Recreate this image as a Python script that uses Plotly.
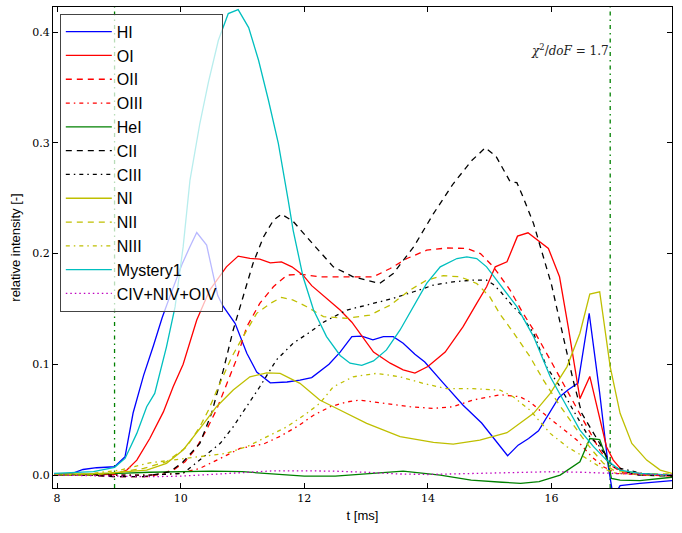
import plotly.graph_objects as go

# ---- data ----
t_HI = [7.95, 8.25, 8.42, 8.64, 8.93, 9.1, 9.23, 9.4, 9.56, 9.7, 9.83, 10.02, 10.14, 10.26, 10.42, 10.6, 10.68, 10.88, 11.07, 11.23, 11.45, 11.72, 11.93, 12.12, 12.4, 12.58, 12.77, 12.93, 13.11, 13.28, 13.44, 13.6, 13.79, 13.95, 14.25, 14.57, 14.87, 15.1, 15.29, 15.46, 15.63, 15.79, 15.97, 16.12, 16.27, 16.43, 16.61, 16.78, 16.92, 17.0, 17.11, 17.43, 17.95]
y_HI = [0.001, 0.0015, 0.005, 0.0066, 0.0075, 0.0166, 0.056, 0.09, 0.117, 0.142, 0.162, 0.19, 0.205, 0.219, 0.2076, 0.162, 0.153, 0.137, 0.110, 0.093, 0.0833, 0.084, 0.0857, 0.088, 0.100, 0.111, 0.125, 0.1255, 0.122, 0.125, 0.125, 0.119, 0.109, 0.102, 0.083, 0.063, 0.047, 0.031, 0.0174, 0.027, 0.033, 0.040, 0.0557, 0.070, 0.077, 0.083, 0.146, 0.074, 0.0075, -0.02, -0.0096, -0.0075, -0.005]

t_OI = [7.95, 8.5, 8.94, 9.13, 9.29, 9.5, 9.72, 9.88, 10.04, 10.26, 10.47, 10.74, 10.93, 11.12, 11.28, 11.45, 11.63, 11.8, 11.98, 12.12, 12.25, 12.58, 12.77, 12.93, 13.12, 13.39, 13.6, 13.79, 14.0, 14.28, 14.57, 14.79, 14.95, 15.09, 15.28, 15.45, 15.62, 15.95, 16.13, 16.27, 16.46, 16.62, 16.76, 16.89, 17.0, 17.16, 17.5, 17.95]
y_OI = [0.0, 0.0, 0.0006, 0.0045, 0.0135, 0.033, 0.057, 0.080, 0.100, 0.14, 0.167, 0.188, 0.1977, 0.1956, 0.195, 0.1916, 0.1925, 0.188, 0.1805, 0.171, 0.165, 0.149, 0.138, 0.126, 0.111, 0.101, 0.095, 0.092, 0.098, 0.111, 0.134, 0.155, 0.170, 0.188, 0.1925, 0.2157, 0.2187, 0.2046, 0.179, 0.134, 0.069, 0.089, 0.0557, 0.0256, 0.0135, 0.003, 0.001, 0.0]

t_OII = [7.95, 8.5, 9.0, 9.5, 9.88, 10.07, 10.26, 10.42, 10.58, 10.69, 10.9, 11.07, 11.28, 11.5, 11.72, 11.93, 12.25, 12.69, 13.12, 13.39, 13.66, 13.98, 14.3, 14.63, 14.85, 15.06, 15.33, 15.54, 15.71, 15.98, 16.22, 16.46, 16.62, 16.78, 16.95, 17.16, 17.5, 17.95]
y_OII = [0.0, 0.0, -0.0015, -0.0015, 0.0045, 0.012, 0.025, 0.041, 0.059, 0.074, 0.104, 0.134, 0.155, 0.17, 0.1805, 0.1814, 0.179, 0.179, 0.179, 0.1865, 0.1955, 0.203, 0.205, 0.2046, 0.2, 0.188, 0.167, 0.146, 0.131, 0.104, 0.080, 0.0557, 0.039, 0.0226, 0.009, 0.002, 0.0, -0.001]

t_OIII = [7.95, 8.5, 9.0, 9.5, 9.99, 10.31, 10.64, 10.96, 11.34, 11.61, 11.88, 12.15, 12.42, 12.69, 12.9, 13.33, 13.71, 14.09, 14.41, 14.73, 15.17, 15.49, 15.65, 15.87, 16.14, 16.41, 16.65, 16.84, 17.05, 17.5, 17.95]
y_OIII = [0.0, 0.0, 0.0, 0.0, 0.0015, 0.006, 0.015, 0.024, 0.028, 0.035, 0.0436, 0.054, 0.0617, 0.066, 0.0677, 0.0647, 0.0617, 0.0602, 0.0617, 0.0677, 0.0725, 0.0707, 0.066, 0.0557, 0.0436, 0.0316, 0.0166, 0.0075, 0.0015, 0.0, 0.0]

t_HeI = [7.95, 8.5, 9.0, 9.5, 10.0, 10.5, 11.0, 11.5, 12.0, 12.5, 13.0, 13.6, 14.2, 14.7, 15.2, 15.5, 15.8, 16.14, 16.46, 16.62, 16.78, 16.92, 16.97, 17.11, 17.43, 17.95]
y_HeI = [0.0, 0.0005, 0.0015, 0.0025, 0.0033, 0.0035, 0.003, 0.001, -0.001, -0.001, 0.001, 0.0035, 0.0, -0.0045, -0.0065, -0.0075, -0.006, 0.0, 0.012, 0.033, 0.032, 0.0106, -0.003, -0.0045, -0.005, -0.002]

t_CII = [7.95, 8.5, 8.9, 9.4, 9.83, 10.04, 10.31, 10.5, 10.69, 10.85, 11.01, 11.17, 11.34, 11.5, 11.63, 11.82, 12.15, 12.47, 12.79, 13.22, 13.44, 13.77, 14.09, 14.41, 14.71, 14.93, 15.1, 15.33, 15.44, 15.54, 15.71, 15.87, 16.0, 16.19, 16.35, 16.49, 16.62, 16.78, 16.95, 17.11, 17.4, 17.95]
y_CII = [0.0, 0.0, -0.0015, -0.0015, 0.003, 0.012, 0.0286, 0.0557, 0.0947, 0.131, 0.161, 0.191, 0.215, 0.23, 0.2356, 0.229, 0.208, 0.188, 0.179, 0.173, 0.182, 0.206, 0.236, 0.263, 0.284, 0.2955, 0.288, 0.265, 0.264, 0.251, 0.227, 0.197, 0.172, 0.125, 0.0857, 0.0557, 0.0436, 0.0286, 0.0106, 0.0045, 0.0, -0.001]

t_CIII = [7.95, 8.5, 9.0, 9.5, 10.04, 10.37, 10.64, 10.85, 11.07, 11.28, 11.55, 11.82, 12.09, 12.31, 12.69, 13.12, 13.44, 13.77, 14.09, 14.41, 14.73, 14.95, 15.06, 15.17, 15.38, 15.49, 15.71, 15.92, 16.14, 16.35, 16.57, 16.78, 17.0, 17.5, 17.95]
y_CIII = [0.0, 0.0, 0.0, 0.0, 0.0015, 0.0166, 0.0286, 0.0436, 0.0617, 0.0797, 0.104, 0.119, 0.129, 0.138, 0.149, 0.155, 0.1595, 0.1655, 0.1715, 0.1745, 0.176, 0.176, 0.172, 0.166, 0.152, 0.146, 0.128, 0.0977, 0.0797, 0.0587, 0.0376, 0.0256, 0.0075, 0.001, 0.0]

t_NI = [7.95, 8.5, 8.86, 9.45, 9.77, 10.04, 10.31, 10.58, 10.85, 11.12, 11.39, 11.61, 11.93, 12.25, 12.47, 13.01, 13.55, 14.09, 14.41, 14.84, 15.28, 15.71, 15.98, 16.25, 16.46, 16.62, 16.78, 16.95, 17.11, 17.3, 17.54, 17.76, 17.95]
y_NI = [0.001, 0.001, 0.002, 0.0045, 0.0106, 0.0226, 0.042, 0.0617, 0.0767, 0.0887, 0.0923, 0.0918, 0.0828, 0.0677, 0.0617, 0.0467, 0.0346, 0.0295, 0.028, 0.0316, 0.0382, 0.0557, 0.0737, 0.0977, 0.128, 0.1634, 0.1655, 0.0977, 0.0557, 0.0286, 0.0135, 0.0045, 0.0015]

t_NII = [7.95, 8.5, 8.95, 9.4, 9.77, 10.1, 10.31, 10.45, 10.61, 10.83, 11.01, 11.23, 11.45, 11.63, 11.82, 12.04, 12.31, 12.69, 13.06, 13.39, 13.71, 13.98, 14.25, 14.52, 14.79, 15.0, 15.17, 15.38, 15.65, 15.87, 16.11, 16.3, 16.49, 16.68, 16.84, 17.0, 17.5, 17.95]
y_NII = [0.0, 0.0, 0.002, 0.006, 0.012, 0.0256, 0.0436, 0.0587, 0.0797, 0.107, 0.125, 0.146, 0.155, 0.1604, 0.158, 0.152, 0.143, 0.1415, 0.1444, 0.1534, 0.167, 0.176, 0.18, 0.179, 0.173, 0.161, 0.145, 0.129, 0.107, 0.0857, 0.0647, 0.0496, 0.0346, 0.021, 0.0106, 0.0045, 0.001, 0.001]

t_NIII = [7.95, 8.5, 9.02, 9.5, 9.93, 10.31, 10.74, 11.07, 11.39, 11.72, 12.04, 12.25, 12.47, 12.79, 13.17, 13.55, 13.93, 14.3, 14.73, 15.17, 15.38, 15.65, 15.98, 16.25, 16.52, 16.78, 17.0, 17.5, 17.95]
y_NIII = [0.0, 0.001, 0.0045, 0.011, 0.014, 0.0166, 0.0196, 0.0256, 0.0346, 0.0436, 0.0557, 0.0647, 0.0797, 0.0887, 0.0918, 0.0887, 0.0827, 0.078, 0.078, 0.0767, 0.0707, 0.0587, 0.0376, 0.0256, 0.0166, 0.0075, 0.002, 0.0, 0.0]

t_Myst = [7.95, 8.59, 8.93, 9.1, 9.29, 9.45, 9.58, 9.77, 9.91, 10.04, 10.15, 10.31, 10.45, 10.61, 10.77, 10.93, 11.1, 11.26, 11.42, 11.58, 11.74, 11.82, 11.98, 12.15, 12.36, 12.58, 12.74, 12.93, 13.12, 13.33, 13.55, 13.77, 13.98, 14.2, 14.47, 14.63, 14.79, 14.95, 15.17, 15.44, 15.71, 15.98, 16.25, 16.46, 16.68, 16.89, 17.11, 17.43, 17.95]
y_Myst = [0.0015, 0.003, 0.007, 0.015, 0.0376, 0.0617, 0.0737, 0.1158, 0.152, 0.206, 0.266, 0.3174, 0.355, 0.3926, 0.4167, 0.4203, 0.404, 0.3745, 0.3384, 0.2994, 0.248, 0.221, 0.179, 0.149, 0.125, 0.108, 0.101, 0.099, 0.103, 0.113, 0.131, 0.152, 0.173, 0.188, 0.1955, 0.197, 0.1955, 0.188, 0.172, 0.152, 0.125, 0.0887, 0.0617, 0.0406, 0.0256, 0.0135, 0.0045, 0.0015, 0.0]

t_IV = [7.95, 8.5, 9.0, 9.5, 10.0, 10.5, 11.0, 11.5, 12.0, 12.5, 13.0, 13.5, 14.0, 14.5, 15.0, 15.5, 16.0, 16.5, 17.0, 17.5, 17.95]
y_IV = [0.0, -0.0005, -0.001, -0.0015, -0.001, 0.0005, 0.0025, 0.0038, 0.0038, 0.0035, 0.0025, 0.001, 0.0005, 0.0012, 0.0022, 0.0028, 0.003, 0.0025, 0.0012, 0.0005, 0.0]

marker_times = [8.93, 16.95]
chi_text = "<i>χ</i><sup>2</sup>/<i>doF</i> = 1.7"

series = [
    ("HI", t_HI, y_HI, "#0000FF", "solid"),
    ("OI", t_OI, y_OI, "#FF0000", "solid"),
    ("OII", t_OII, y_OII, "#FF0000", "6px,5px"),
    ("OIII", t_OIII, y_OIII, "#FF0000", "4px,4px,1.5px,4px"),
    ("HeI", t_HeI, y_HeI, "#008000", "solid"),
    ("CII", t_CII, y_CII, "#000000", "6px,5px"),
    ("CIII", t_CIII, y_CIII, "#000000", "4px,4px,1.5px,4px"),
    ("NI", t_NI, y_NI, "#BFBF00", "solid"),
    ("NII", t_NII, y_NII, "#BFBF00", "6px,5px"),
    ("NIII", t_NIII, y_NIII, "#BFBF00", "4px,4px,1.5px,4px"),
    ("Mystery1", t_Myst, y_Myst, "#00BFBF", "solid"),
    ("CIV+NIV+OIV", t_IV, y_IV, "#BF00BF", "1.5px,3px"),
]

fig = go.Figure()

YMIN, YMAX = -0.0117, 0.4226
for tm in marker_times:
    fig.add_trace(go.Scatter(x=[tm, tm], y=[YMIN, YMAX], mode="lines",
                             line=dict(color="#008000", width=1.3, dash="4px,4px,1.5px,4px"),
                             showlegend=False, hoverinfo="skip"))

for name, tx, ty, col, dash in series:
    fig.add_trace(go.Scatter(x=tx, y=ty, mode="lines", name=name,
                             line=dict(color=col, width=1.3, dash=dash)))

fig.add_annotation(x=0.901, y=0.911, xref="paper", yref="paper",
                   xanchor="right", yanchor="middle", text=chi_text, showarrow=False,
                   font=dict(family="DejaVu Serif", size=12, color="#222222"))

axis_common = dict(showline=True, linecolor="black", linewidth=1, mirror="allticks",
                   ticks="inside", ticklen=5, tickcolor="black", showgrid=False, zeroline=False,
                   tickfont=dict(family="DejaVu Serif", size=11, color="black"))

fig.update_layout(
    width=682, height=533,
    margin=dict(l=53, r=10, t=7, b=45),
    paper_bgcolor="white", plot_bgcolor="white",
    xaxis=dict(range=[7.934, 17.95], tickvals=[8, 10, 12, 14, 16],
               title=dict(text="t [ms]", font=dict(family="Liberation Sans", size=13, color="black"), standoff=6),
               **axis_common),
    yaxis=dict(range=[YMIN, YMAX], tickvals=[0.0, 0.1, 0.2, 0.3, 0.4], tickformat=".1f",
               title=dict(text="relative intensity [-]", font=dict(family="Liberation Sans", size=13, color="black"), standoff=8),
               **axis_common),
    legend=dict(x=0.011, y=0.986, xanchor="left", yanchor="top",
                bgcolor="rgba(255,255,255,0.72)", bordercolor="#444444", borderwidth=1,
                font=dict(family="Liberation Sans", size=16, color="black"),
                itemwidth=46, tracegroupgap=0),
    showlegend=True,
)

fig.write_html("out.html")
